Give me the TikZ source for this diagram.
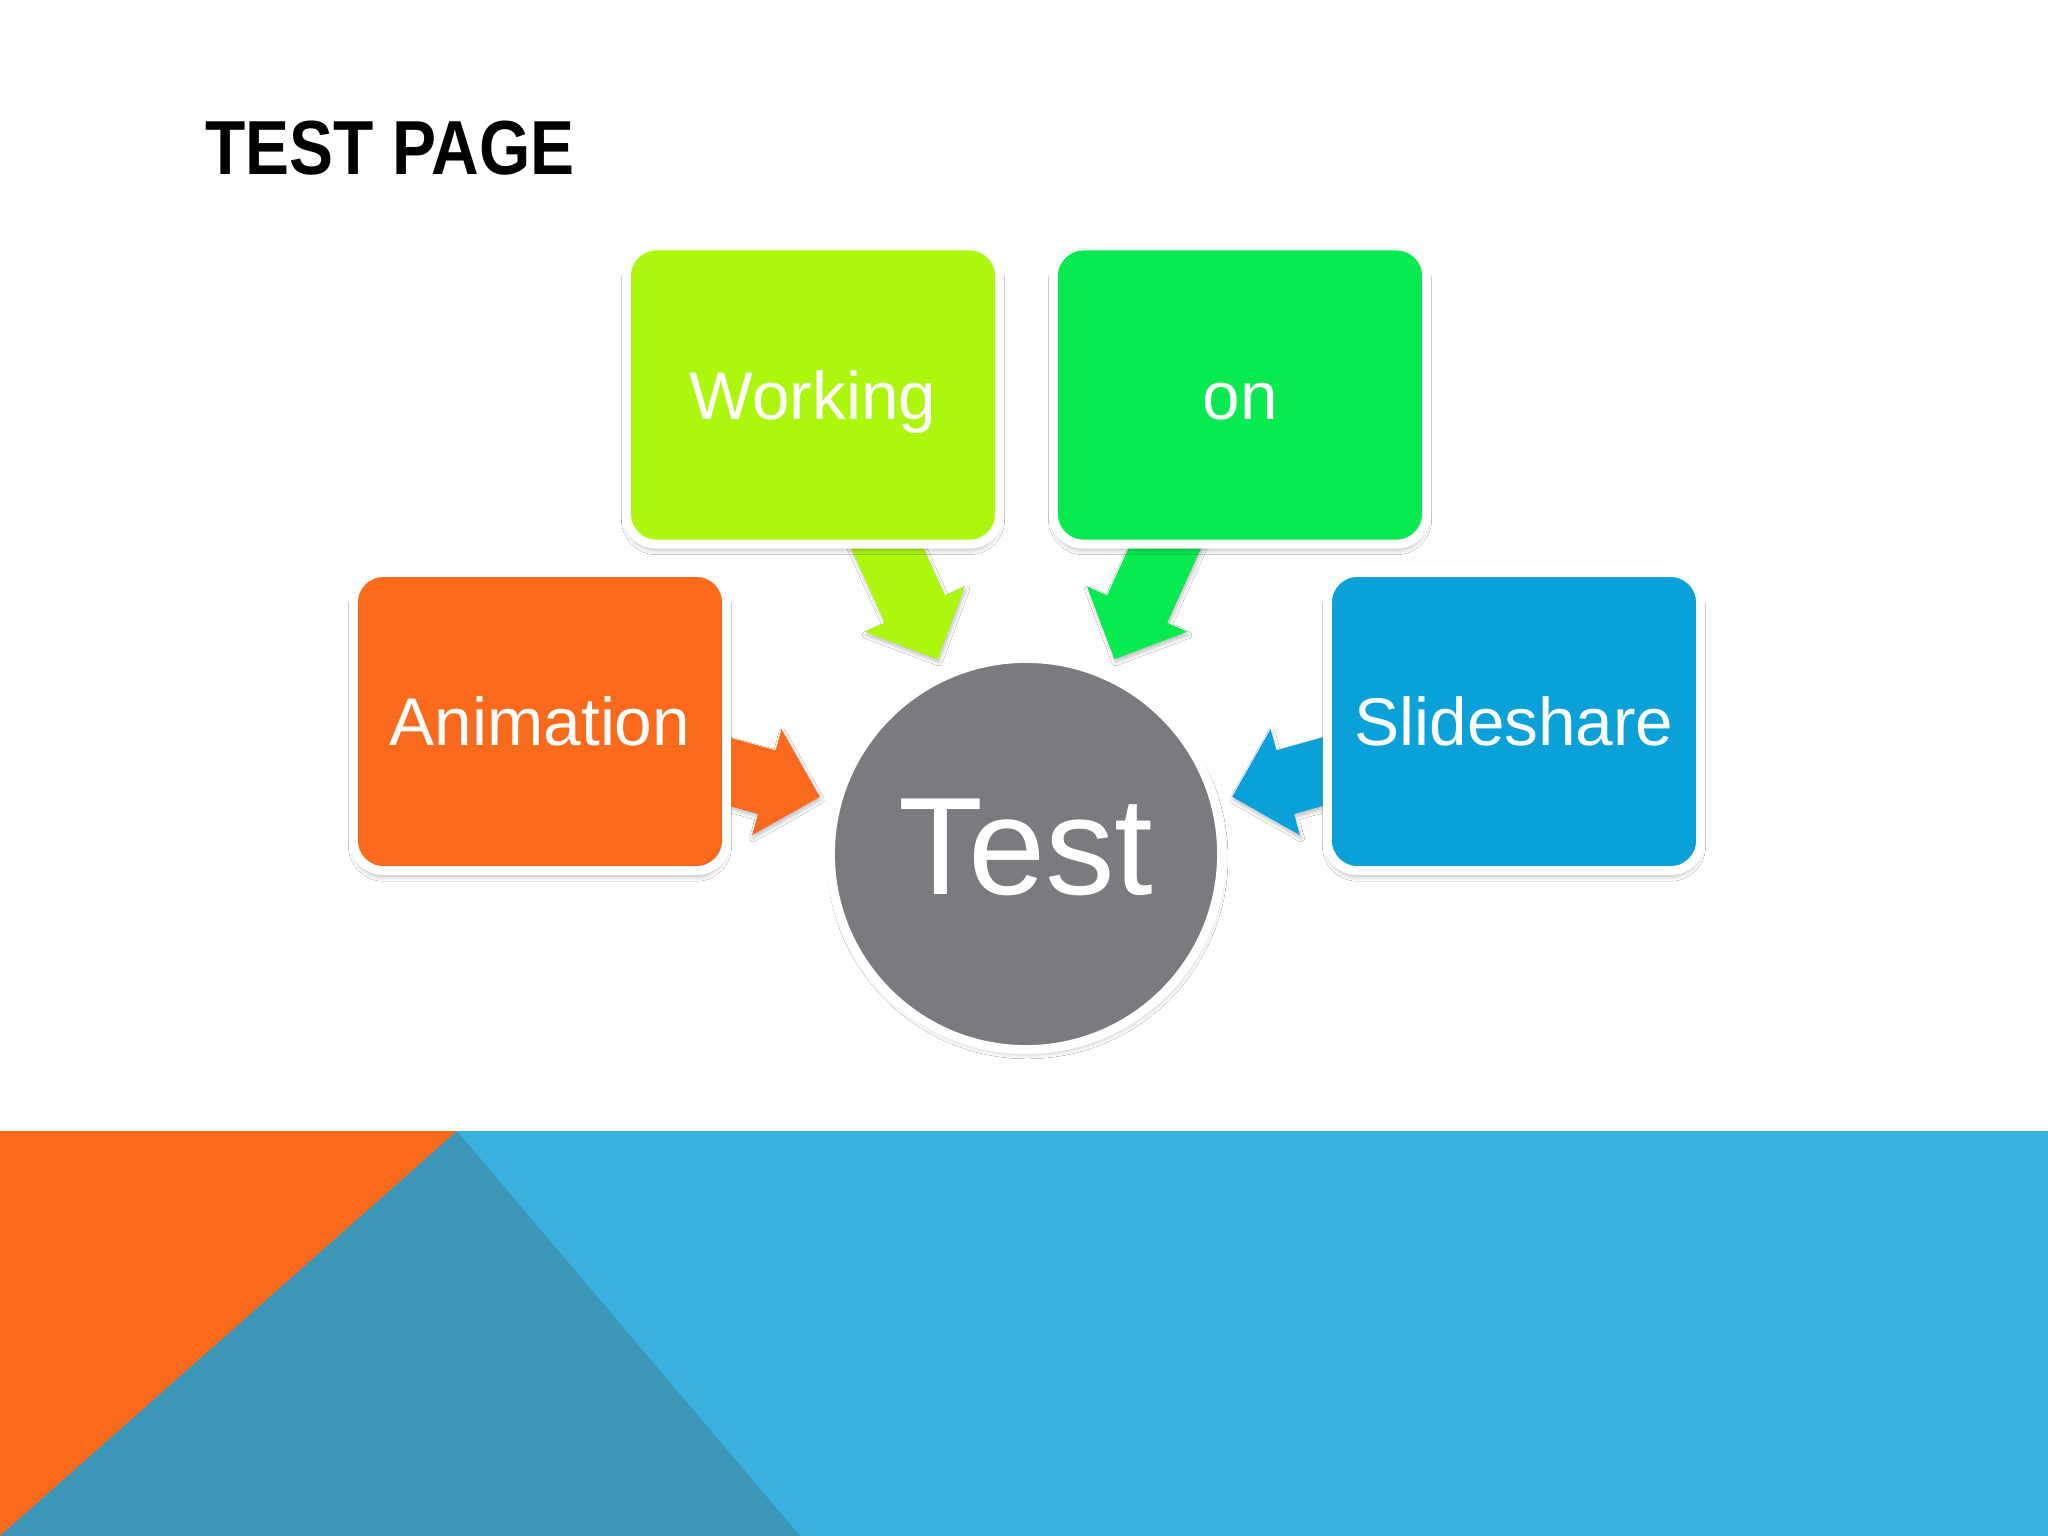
\documentclass[tikz,border=0pt]{standalone}
\usepackage{fontspec}
\setmainfont{Liberation Sans}
\usetikzlibrary{shadows.blur,calc}
\definecolor{cOrange}{HTML}{F96A1D}
\definecolor{cYellowGreen}{HTML}{ADF70E}
\definecolor{cGreen}{HTML}{08EA50}
\definecolor{cBlue}{HTML}{0AA1D8}
\definecolor{cGrey}{HTML}{7A7B7F}
\definecolor{bandBlue}{HTML}{3BB1DF}
\definecolor{bandTeal}{HTML}{3C96B8}
\definecolor{bandOrange}{HTML}{F96A1D}
\newcommand\blockarrow[2]{%
  \fill[#2, arrowshadow]
    ($(test.center)+(#1:214)$)
    -- ($(test.center)+(#1:269)+(#1+90:55)$)
    -- ($(test.center)+(#1:269)+(#1+90:33)$)
    -- ($(test.center)+(#1:380)+(#1+90:33)$)
    -- ($(test.center)+(#1:380)+(#1-90:33)$)
    -- ($(test.center)+(#1:269)+(#1-90:33)$)
    -- ($(test.center)+(#1:269)+(#1-90:55)$)
    -- cycle;}
\begin{document}
\begin{tikzpicture}[x=0.01cm,y=-0.01cm,
  arrowshadow/.style={blur shadow={shadow xshift=0.3pt, shadow yshift=-0.9pt, shadow opacity=25, shadow blur steps=6, shadow blur radius=1pt}},
  box/.style={rectangle, rounded corners=8.5pt, draw=white, line width=2.56pt,
    minimum width=3.73cm, minimum height=2.98cm, inner sep=0pt,
    text=white, font=\fontsize{19.2}{22}\selectfont, text height=13.75pt, text depth=0pt,
    blur shadow={shadow xshift=0pt, shadow yshift=-1.6pt, shadow opacity=30, shadow blur steps=6, shadow blur radius=1.4pt}},
  hub/.style={circle, minimum size=3.91cm, fill=cGrey, draw=white, line width=2.56pt, inner sep=0pt,
    text=white, font=\fontsize{39.5}{44}\selectfont, text height=28.3pt, text depth=5.1pt,
    blur shadow={shadow xshift=0.4pt, shadow yshift=-1.2pt, shadow opacity=28, shadow blur steps=6, shadow blur radius=1.4pt}},
  titletext/.style={anchor=base west, inner sep=0pt, font=\fontsize{21.8}{24}\selectfont\bfseries, text=black}
]
\useasboundingbox (0,0) rectangle (2048,1536);
\fill[white] (0,0) rectangle (2048,1536);
% bottom band
\fill[bandBlue] (0,1131) rectangle (2048,1536);
\fill[bandOrange] (0,1131) -- (457,1131) -- (0,1536) -- cycle;
\fill[bandTeal] (457,1131) -- (800,1536) -- (0,1536) -- cycle;
% title
\node[titletext] (title) at (205,174) {\scalebox{0.86}[1]{TEST PAGE}};
% hub
\node[hub] (test) at (1026,854) {Test};
% arrows
\blockarrow{-164.5}{cOrange}
\blockarrow{-114.4}{cYellowGreen}
\blockarrow{-65.6}{cGreen}
\blockarrow{-15.5}{cBlue}
% boxes
\node[box, fill=cOrange] (anim) at (540,721.5) {Animation};
\node[box, fill=cYellowGreen] (work) at (813,395) {Working};
\node[box, fill=cGreen] (on) at (1240,395) {on};
\node[box, fill=cBlue] (slide) at (1514,721.5) {Slideshare};
\end{tikzpicture}
\end{document}
